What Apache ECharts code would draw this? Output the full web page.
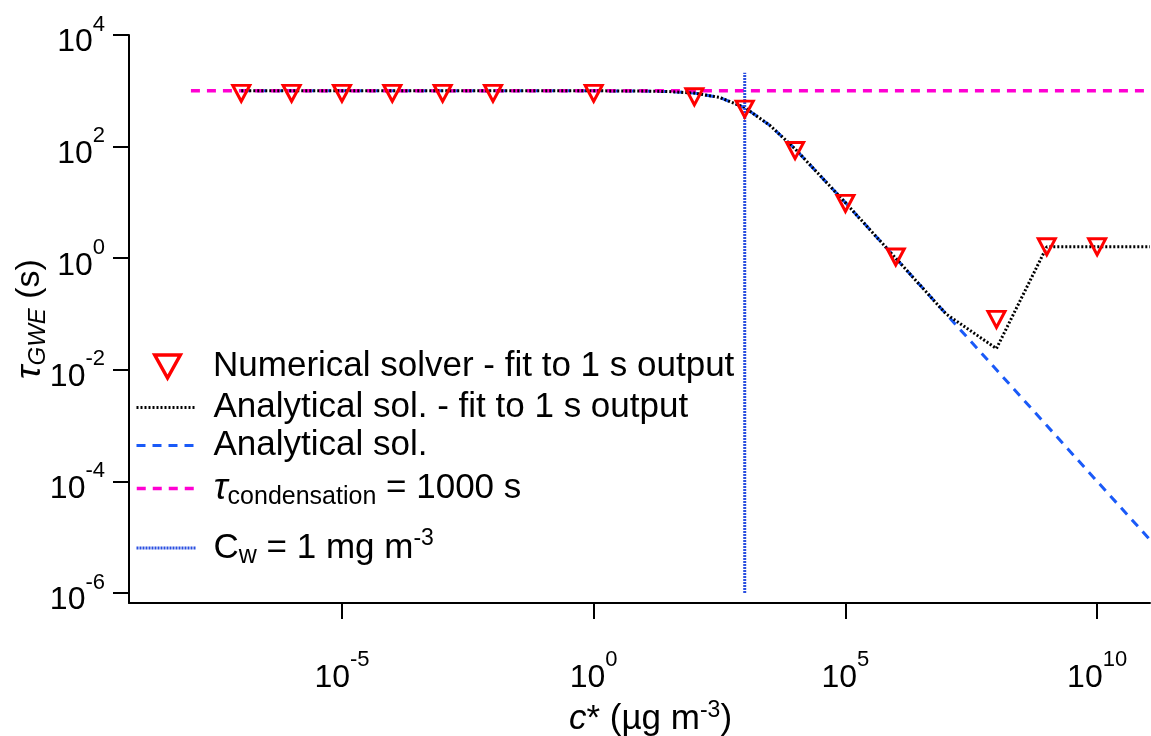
<!DOCTYPE html>
<html>
<head>
<meta charset="utf-8">
<script src="https://cdn.jsdelivr.net/npm/echarts@6/dist/echarts.min.js"></script>
<style>
  html, body { margin: 0; padding: 0; background: #ffffff; }
  #chart { width: 1151px; height: 736px; }
</style>
</head>
<body>
<div id="chart"></div>
<script>
// Gas–wall equilibration timescale versus saturation concentration c*

// Numerical solver, fit to 1 s output (c* in µg m^-3, tau in s)
const numC   = [1e-7, 1e-6, 1e-5, 1e-4, 1e-3, 1e-2, 1, 1e2, 1e3, 1e4, 1e5, 1e6, 1e8, 1e9, 1e10];
const numTau = [900, 900, 900, 900, 900, 900, 900, 780, 470, 85, 9.6, 1.05, 0.08, 1.6, 1.6];

// Analytical solution
const anaC   = [1e-7, 1e-6, 1e-5, 1e-4, 1e-3, 1e-2, 1e-1, 1, 1e1, 3.16e1, 1e2, 3.16e2, 1e3, 3.16e3, 1e4, 1e5, 1e6, 1e7, 1e8, 1e9, 1e10, 1.12e11];
const anaTau = [1000, 1000, 1000, 1000, 1000, 1000, 1000, 999, 990, 970, 910, 760, 500, 240, 91, 9.9, 1.0, 0.1, 0.01, 1e-3, 1e-4, 9e-6];

// Analytical solution, fit to 1 s output
const fitC   = [1e-7, 1e-6, 1e-5, 1e-4, 1e-3, 1e-2, 1e-1, 1, 1e1, 3.16e1, 1e2, 3.16e2, 1e3, 3.16e3, 1e4, 1e5, 1e6, 1e7, 1e8, 1e9, 1e10, 1.12e11];
const fitTau = [1000, 1000, 1000, 1000, 1000, 1000, 1000, 999, 990, 970, 910, 760, 500, 240, 91, 9.9, 1.0, 0.1, 0.024, 1.6, 1.6, 1.6];

// Condensation timescale reference line (1000 s)
const condC   = [1e-8, 1.12e11];
const condTau = [1000, 1000];

// Wall-equivalent mass concentration C_w = 1 mg m^-3 (= 1000 µg m^-3)
const cwC   = [1000, 1000];
const cwTau = [1e-6, 2.1e3];

// Axis ticks and their exponent labels
const xTickVals = [1e-5, 1, 1e5, 1e10];
const xTickExps = ['-5', '0', '5', '10'];
const yTickVals = [1e-6, 1e-4, 1e-2, 1, 1e2, 1e4];
const yTickExps = ['-6', '-4', '-2', '0', '2', '4'];

// Legend entries
const seriesNames = ['num', 'fit', 'ana', 'cond', 'cw'];
const legendLabels = [
  '{t|Numerical solver - fit to 1 s output}',
  '{t|Analytical sol. - fit to 1 s output}',
  '{t|Analytical sol.}',
  '{i|\u03C4}{sub|condensation}{t| = 1000 s}',
  '{t|C}{sub|w}{t| = 1 mg m}{sup|-3}'
];

const FONT = "'Liberation Sans', Arial, Helvetica, sans-serif";
const pairs = (xs, ys) => xs.map((x, i) => [x, ys[i]]);

// Line styles shared by series and legend samples
const styles = {
  ana:  { color: '#1a5af8', width: 3, type: [9, 7] },
  cond: { color: '#ff00d2', width: 3.5, type: [9, 7] },
  fit:  { color: '#000000', width: 3, type: [2, 2] },
  cw:   { color: '#2a4fe0', width: 3, type: [2, 1] }
};

function expLabel(vals, exps) {
  return function (v) {
    const e = Math.round(Math.log10(v));
    let k = 0;
    vals.forEach((t, i) => { if (Math.round(Math.log10(t)) === e) k = i; });
    return '{b|10}{s|' + exps[k] + '}';
  };
}
const tickRich = {
  b: { fontSize: 32, lineHeight: 58, fontFamily: FONT, color: '#000' },
  s: { fontSize: 22, lineHeight: 18, verticalAlign: 'top', fontFamily: FONT, color: '#000' }
};
const legendRich = {
  t: { fontSize: 35, lineHeight: 42, fontFamily: FONT, color: '#000' },
  i: { fontSize: 37, lineHeight: 42, fontStyle: 'italic', fontFamily: FONT, color: '#000' },
  sub: { fontSize: 25, lineHeight: 20, verticalAlign: 'bottom', fontFamily: FONT, color: '#000' },
  sup: { fontSize: 23, lineHeight: 22, verticalAlign: 'top', fontFamily: FONT, color: '#000' }
};

// One legend block per entry so that each row sits at its own height
const legendRows = [
  { top: 349, left: 153, w: 27, h: 23, pad: 27 },
  { top: 390, left: 135, w: 60, h: 20, pad: 12 },
  { top: 428, left: 135, w: 60, h: 20, pad: 12 },
  { top: 470, left: 135, w: 60, h: 20, pad: 12 },
  { top: 527, left: 135, w: 60, h: 20, pad: 12 }
];
const legends = legendRows.map((r, i) => {
  const lg = {
    show: true,
    orient: 'vertical',
    left: r.left,
    top: r.top,
    itemWidth: r.w,
    itemHeight: r.h,
    padding: 0,
    selectedMode: false,
    data: [seriesNames[i]],
    formatter: () => legendLabels[i],
    textStyle: { fontSize: 35, fontFamily: FONT, color: '#000', padding: [0, 0, 0, r.pad], rich: legendRich }
  };
  if (i === 0) {
    // downward-pointing hollow triangle
    lg.icon = 'path://M0,0 L20,0 L10,18 Z';
    lg.itemStyle = { color: 'rgba(255,255,255,0)', borderColor: '#ff0000', borderWidth: 3.5 };
  } else {
    // line sample only, no centre symbol
    lg.itemStyle = { opacity: 0 };
    lg.lineStyle = Object.assign({}, styles[seriesNames[i]]);
  }
  return lg;
});

const chart = echarts.init(document.getElementById('chart'), null, { renderer: 'canvas' });
chart.setOption({
  backgroundColor: '#ffffff',
  animation: false,
  legend: legends,
  grid: { left: 129, right: 1, top: 35, bottom: 133, containLabel: false, outerBoundsMode: 'none' },
  xAxis: {
    type: 'log',
    logBase: 10,
    min: Math.pow(10, -9.23),
    max: Math.pow(10, 11.05),
    name: '{ci|c}{n|* (\u00B5g m}{sup|-3}{n|)}',
    nameLocation: 'middle',
    nameGap: 96,
    nameTextStyle: {
      padding: [0, 0, 0, 22],
      rich: {
        ci: { fontSize: 35, lineHeight: 40, fontStyle: 'italic', fontFamily: FONT, color: '#000' },
        n: { fontSize: 35, lineHeight: 40, fontFamily: FONT, color: '#000' },
        sup: { fontSize: 23, lineHeight: 18, verticalAlign: 'top', fontFamily: FONT, color: '#000' }
      }
    },
    axisLine: { show: true, onZero: false, lineStyle: { color: '#000', width: 2 } },
    axisTick: { show: true, inside: false, length: 16, customValues: xTickVals, lineStyle: { color: '#000', width: 2 } },
    minorTick: { show: false },
    axisLabel: { show: true, margin: 46, customValues: xTickVals, formatter: expLabel(xTickVals, xTickExps), rich: tickRich },
    splitLine: { show: false },
    minorSplitLine: { show: false }
  },
  yAxis: {
    type: 'log',
    logBase: 10,
    min: Math.pow(10, -6.18),
    max: 1e4,
    name: '{i|\u03C4}{sub|GWE}{n| (s)}',
    nameLocation: 'middle',
    nameGap: 79,
    nameMoveOverlap: false,
    nameTextStyle: {
      rich: {
        i: { fontSize: 36, lineHeight: 40, fontStyle: 'italic', fontFamily: FONT, color: '#000' },
        sub: { fontSize: 24, lineHeight: 18, verticalAlign: 'bottom', fontStyle: 'italic', fontFamily: FONT, color: '#000' },
        n: { fontSize: 34, lineHeight: 40, fontFamily: FONT, color: '#000' }
      }
    },
    axisLine: { show: true, onZero: false, lineStyle: { color: '#000', width: 2 } },
    axisTick: { show: true, inside: false, length: 16, customValues: yTickVals, lineStyle: { color: '#000', width: 2 } },
    minorTick: { show: false },
    axisLabel: { show: true, margin: 24, padding: [15, 0, 0, 0], customValues: yTickVals, formatter: expLabel(yTickVals, yTickExps), rich: tickRich },
    splitLine: { show: false },
    minorSplitLine: { show: false }
  },
  series: [
    {
      name: 'ana', type: 'line', data: pairs(anaC, anaTau), symbol: 'none', smooth: false, z: 2,
      lineStyle: styles.ana
    },
    {
      name: 'cond', type: 'line', data: pairs(condC, condTau), symbol: 'none', z: 2,
      lineStyle: styles.cond
    },
    {
      name: 'fit', type: 'line', data: pairs(fitC, fitTau), symbol: 'none', z: 3,
      lineStyle: styles.fit
    },
    {
      name: 'cw', type: 'line', data: pairs(cwC, cwTau), symbol: 'none', z: 3,
      lineStyle: styles.cw
    },
    {
      name: 'num', type: 'scatter', data: pairs(numC, numTau), z: 5,
      symbol: 'triangle', symbolRotate: 180, symbolSize: [17, 16],
      itemStyle: { color: 'rgba(255,255,255,0)', borderColor: '#ff0000', borderWidth: 3, opacity: 1 }
    }
  ]
});
</script>
</body>
</html>
